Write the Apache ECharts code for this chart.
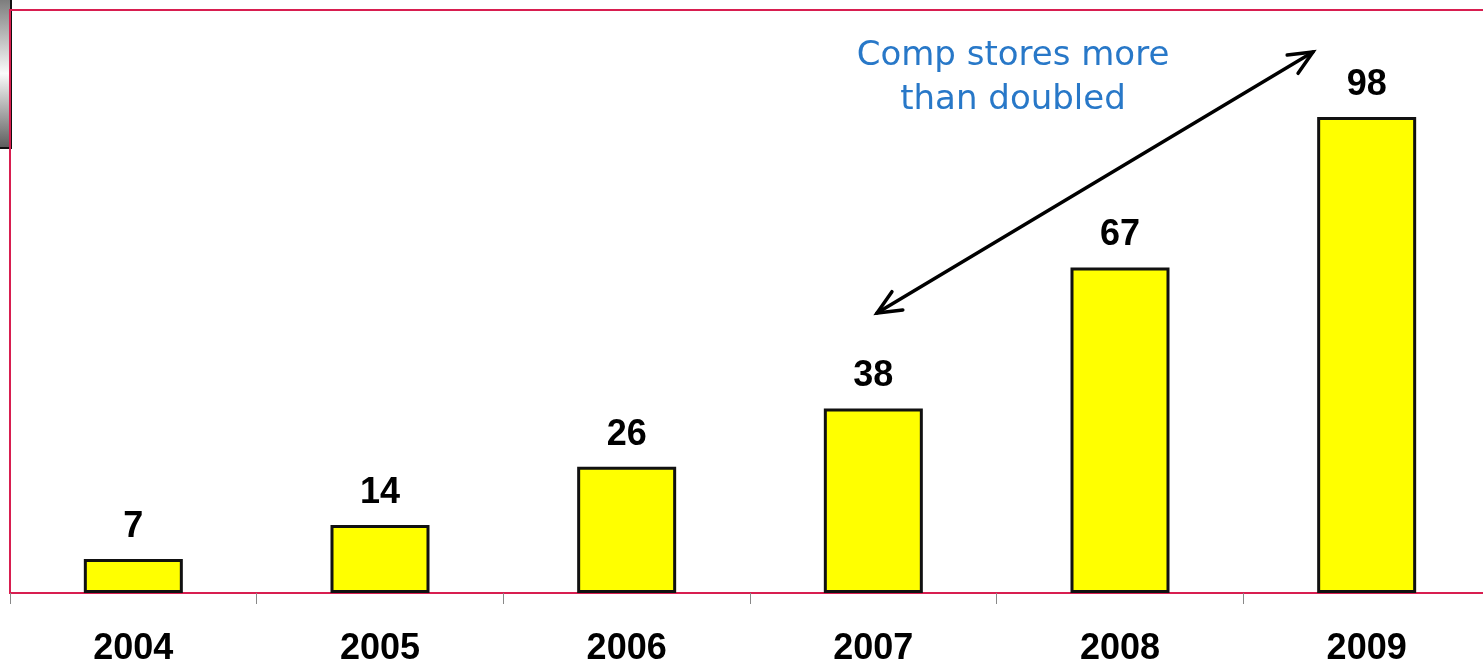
<!DOCTYPE html>
<html>
<head>
<meta charset="utf-8">
<script src="https://cdn.jsdelivr.net/npm/echarts@6/dist/echarts.min.js"></script>
<style>
    html, body { margin: 0; padding: 0; background: #fff; }
    #main { width: 1483px; height: 666px; }
</style>
</head>
<body>
<div id="main"></div>
<script>
    //年份与门店数
    var years = ['2004', '2005', '2006', '2007', '2008', '2009'];
    var compStores = [7, 14, 26, 38, 67, 98];
    var noteLines = ['Comp stores more', 'than doubled'];

    var chart = echarts.init(document.getElementById('main'));

    //箭头（两端开口箭头）
    var arrowFrom = [877, 313], arrowTo = [1313, 52];
    var headPoints = function (tip, from) {
        var ang = Math.atan2(tip[1] - from[1], tip[0] - from[0]);
        var len = 26, spread = 0.42;
        return [
            [tip[0] - len * Math.cos(ang - spread), tip[1] - len * Math.sin(ang - spread)],
            tip,
            [tip[0] - len * Math.cos(ang + spread), tip[1] - len * Math.sin(ang + spread)]
        ];
    };
    var arrowStyle = { stroke: '#000', lineWidth: 3.5, fill: null, lineCap: 'round', lineJoin: 'miter' };

    var option = {
        backgroundColor: '#fff',
        animation: false,
        grid: {
            left: 10,
            top: 10,
            width: 1480,
            height: 583,
            outerBoundsMode: 'none',
            show: true,
            borderColor: '#D81E50',
            borderWidth: 2
        },
        xAxis: {
            type: 'category',
            data: years,
            axisLine: { show: true, lineStyle: { color: '#D81E50', width: 2 } },
            axisTick: { show: true, length: 11, lineStyle: { color: '#888', width: 1 } },
            axisLabel: {
                margin: 38,
                color: '#000',
                fontFamily: 'Liberation Sans, Arial',
                fontWeight: 'bold',
                fontSize: 36
            }
        },
        yAxis: {
            type: 'value',
            min: 0,
            max: 120,
            axisLine: { show: true, lineStyle: { color: '#D81E50', width: 2 } },
            axisTick: { show: false },
            axisLabel: { show: false },
            splitLine: { show: false }
        },
        series: [{
            type: 'bar',
            data: compStores,
            barWidth: 99,
            itemStyle: {
                color: '#FFFF00',
                borderColor: '#111',
                borderWidth: 3
            },
            label: {
                show: true,
                position: 'top',
                distance: 14,
                color: '#000',
                fontFamily: 'Liberation Sans, Arial',
                fontWeight: 'bold',
                fontSize: 36
            }
        }],
        graphic: [
            //左上角灰色渐变条
            {
                type: 'rect',
                shape: { x: -1, y: -1, width: 12, height: 149 },
                style: {
                    fill: new echarts.graphic.LinearGradient(0, 0, 0, 1, [
                        { offset: 0, color: '#7a7a7a' },
                        { offset: 0.5, color: '#fafafa' },
                        { offset: 1, color: '#5a5a5a' }
                    ]),
                    stroke: '#111',
                    lineWidth: 2
                },
                z: -1
            },
            {
                type: 'text',
                x: 1013,
                y: 78,
                style: {
                    text: noteLines.join('\n'),
                    fill: '#2878C8',
                    font: '34px "DejaVu Sans"',
                    align: 'center',
                    verticalAlign: 'middle',
                    lineHeight: 44
                }
            },
            {
                type: 'line',
                shape: { x1: arrowFrom[0], y1: arrowFrom[1], x2: arrowTo[0], y2: arrowTo[1] },
                style: arrowStyle
            },
            {
                type: 'polyline',
                shape: { points: headPoints(arrowTo, arrowFrom) },
                style: arrowStyle
            },
            {
                type: 'polyline',
                shape: { points: headPoints(arrowFrom, arrowTo) },
                style: arrowStyle
            }
        ]
    };

    chart.setOption(option);
</script>
</body>
</html>
